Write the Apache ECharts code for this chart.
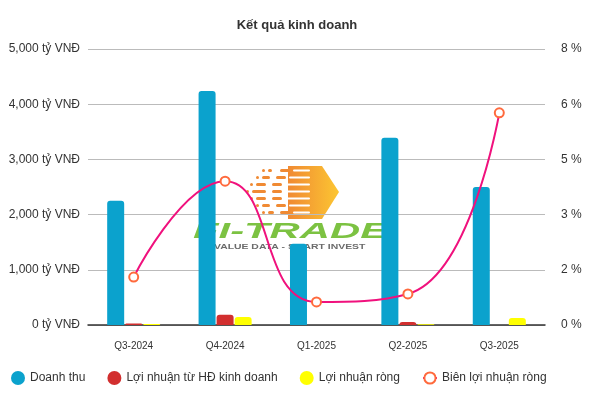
<!DOCTYPE html>
<html>
<head>
<meta charset="utf-8">
<script src="https://cdn.jsdelivr.net/npm/echarts@6/dist/echarts.min.js"></script>
<style>html,body{margin:0;padding:0;background:#fff}#c{width:594px;height:398px}</style>
</head>
<body>
<div id="c"></div>
<script>
const categories = ['Q3-2024', 'Q4-2024', 'Q1-2025', 'Q2-2025', 'Q3-2025'];
const revenue = [2250, 4240, 1470, 3390, 2500];
const operatingProfit = [25, 187, 0, 55, 0];
const netProfit = [18, 145, 0, 15, 125];
const netMargin = [1.39, 4.17, 0.67, 0.9, 6.15];
const leftTicks = { min: 0, max: 5000, interval: 1000 };
const rightTicks = { min: 0, max: 8, interval: 1.6 };

const FONT = 'Liberation Sans, Arial, sans-serif';

// watermark logo (decorative)
const logo = [];
logo.push({
  type: 'polygon', z: -10,
  shape: { points: [[288, 166], [322, 166], [339, 192], [322, 219], [288, 219]] },
  style: {
    fill: new echarts.graphic.LinearGradient(0, 0, 1, 0, [
      { offset: 0, color: '#f08a33' }, { offset: 1, color: '#fcc632' }
    ])
  }
});
const rows = [
  [[262, 3], [268, 4], [280, 30]],
  [[256, 3], [262, 8], [276, 34]],
  [[250, 3], [256, 10], [272, 38]],
  [[246, 3], [252, 14], [272, 38]],
  [[250, 3], [256, 10], [272, 38]],
  [[256, 3], [262, 8], [276, 34]],
  [[262, 3], [268, 6], [280, 30]]
];
rows.forEach((r, i) => {
  const y = 169 + i * 7;
  r.forEach(([x, w], j) => {
    if (j < 2) {
      logo.push({ type: 'rect', z: -9, shape: { x, y, width: w, height: 3, r: 1.5 }, style: { fill: '#f08a33' } });
    } else {
      logo.push({ type: 'rect', z: -9, shape: { x, y, width: 10, height: 3, r: 1.5 }, style: { fill: '#f08a33' } });
      logo.push({ type: 'rect', z: -9, shape: { x: x + 13, y: y + 0.5, width: w - 13, height: 2, r: 1 }, style: { fill: '#ffffff' } });
    }
  });
});
logo.push({
  type: 'text', z: -8, x: 193, y: 221, scaleX: 1.9,
  style: { text: 'FI-TRADE', fontSize: 22, fontWeight: 'bold', fontStyle: 'italic', fill: '#7cc242', fontFamily: FONT }
});
logo.push({
  type: 'text', z: -8, x: 214, y: 243, scaleX: 1.3,
  style: { text: 'VALUE DATA - SMART INVEST', fontSize: 8, fontWeight: 'bold', fill: '#6b6b6b', fontFamily: FONT }
});

const chart = echarts.init(document.getElementById('c'));
chart.setOption({
  animation: false,
  textStyle: { fontFamily: FONT },
  title: {
    text: 'Kết quả kinh doanh', left: 'center', top: 14,
    textStyle: { fontSize: 13, fontWeight: 'bold', color: '#333', fontFamily: FONT }
  },
  graphic: logo,
  legend: {
    bottom: 8, left: 6, itemGap: 22, itemWidth: 14, itemHeight: 14,
    textStyle: { fontSize: 12, color: '#333', fontFamily: FONT },
    data: [
      { name: 'Doanh thu', icon: 'circle' },
      { name: 'Lợi nhuận từ HĐ kinh doanh', icon: 'circle' },
      { name: 'Lợi nhuận ròng', icon: 'circle' },
      { name: 'Biên lợi nhuận ròng' }
    ]
  },
  grid: { left: 88, right: 49, top: 49, bottom: 73 },
  xAxis: {
    type: 'category', data: categories,
    axisLine: { lineStyle: { color: '#333', width: 1.5 } },
    axisTick: { show: false },
    axisLabel: { fontSize: 10, color: '#333', margin: 16 }
  },
  yAxis: [
    {
      type: 'value', min: leftTicks.min, max: leftTicks.max, interval: leftTicks.interval,
      axisLabel: {
        fontSize: 12, color: '#333', margin: 8,
        formatter: v => v.toLocaleString('en-US') + ' tỷ VNĐ'
      },
      splitLine: { lineStyle: { color: '#bbb' } }
    },
    {
      type: 'value', min: rightTicks.min, max: rightTicks.max, interval: rightTicks.interval,
      axisLabel: {
        fontSize: 12, color: '#333', margin: 16,
        formatter: v => Math.round(v) + ' %'
      },
      splitLine: { show: false }
    }
  ],
  series: [
    {
      name: 'Doanh thu', type: 'bar', data: revenue, barWidth: 17, barGap: '6%',
      itemStyle: { color: '#0ba2cd', borderRadius: [3, 3, 0, 0] }
    },
    {
      name: 'Lợi nhuận từ HĐ kinh doanh', type: 'bar', data: operatingProfit, barWidth: 17, barGap: '6%',
      itemStyle: { color: '#d22f2f', borderRadius: [3, 3, 0, 0] }
    },
    {
      name: 'Lợi nhuận ròng', type: 'bar', data: netProfit, barWidth: 17, barGap: '6%',
      itemStyle: { color: '#ffff00', borderRadius: [3, 3, 0, 0] }
    },
    {
      name: 'Biên lợi nhuận ròng', type: 'line', yAxisIndex: 1, data: netMargin, smooth: true,
      symbol: 'circle', symbolSize: 9, z: 5,
      lineStyle: { color: '#f0117d', width: 2 },
      itemStyle: { color: '#fff', borderColor: '#ff6a3d', borderWidth: 2 }
    }
  ]
});
</script>
</body>
</html>
